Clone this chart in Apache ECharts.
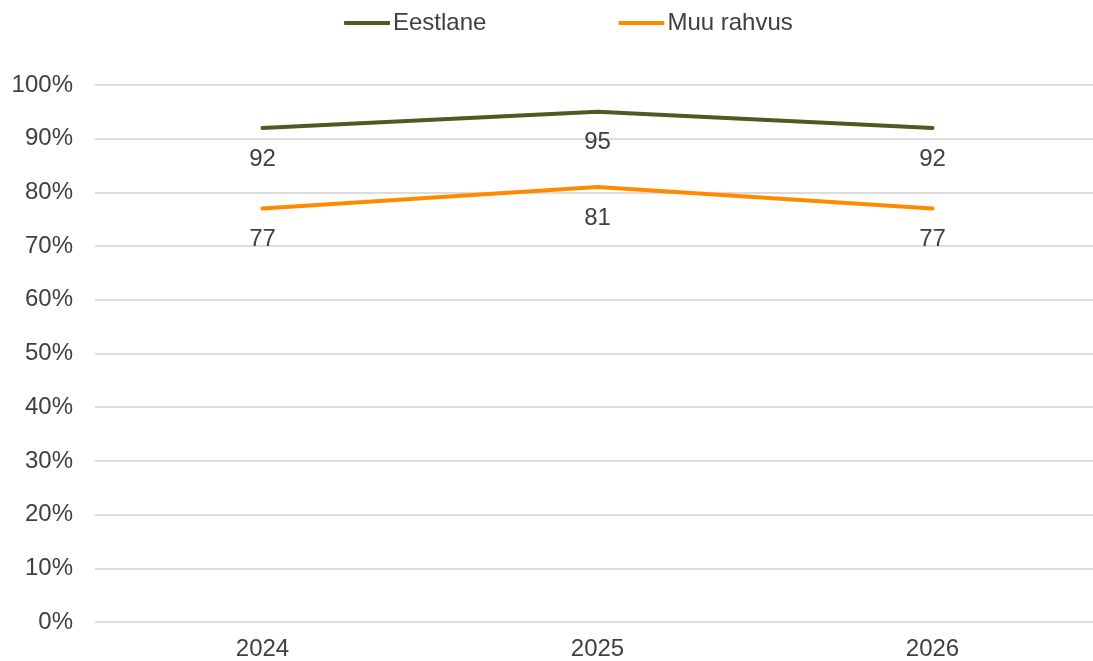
<!DOCTYPE html>
<html><head><meta charset="utf-8">
<script src="https://cdn.jsdelivr.net/npm/echarts@6/dist/echarts.min.js"></script>
<style>html,body{margin:0;padding:0;background:#fff;overflow:hidden}#c{width:1100px;height:661px}</style>
</head><body><div id="c"></div>
<script>
var categories = ['2024', '2025', '2026'];
var eestlane = [92, 95, 92];
var muuRahvus = [77, 81, 77];
var seriesNames = ['Eestlane', 'Muu rahvus'];

var font = 'Liberation Sans, Arial, sans-serif';
var chart = echarts.init(document.getElementById('c'), null, {renderer: 'canvas'});
function lbl() {
  return {show: true, position: 'bottom', distance: 19, color: '#404040', fontSize: 24, fontFamily: font,
    formatter: function (p) { return p.value; }};
}
chart.setOption({
  animation: false,
  legend: {
    top: 6, left: 339, itemWidth: 46, itemHeight: 4, itemGap: 132, icon: 'roundRect',
    textStyle: {color: '#404040', fontSize: 24, fontFamily: font, padding: [0, 0, 0, -2]},
    data: seriesNames
  },
  grid: {left: 95, right: 0, top: 85, bottom: 39, containLabel: false},
  xAxis: {
    type: 'category', data: categories, boundaryGap: true,
    axisLine: {show: false}, axisTick: {show: false},
    axisLabel: {color: '#404040', fontSize: 24, fontFamily: font, margin: 15}
  },
  yAxis: {
    type: 'value', min: 0, max: 100, interval: 10,
    axisLine: {show: false}, axisTick: {show: false},
    splitLine: {lineStyle: {color: '#d0d0d0', width: 1.5}},
    axisLabel: {color: '#404040', fontSize: 24, fontFamily: font, margin: 22, formatter: '{value}%'}
  },
  series: [
    {name: seriesNames[0], type: 'line', data: eestlane, symbol: 'circle', symbolSize: 0, showSymbol: true,
      lineStyle: {color: '#4e5a21', width: 4, cap: 'round'}, itemStyle: {color: '#4e5a21'}, label: lbl()},
    {name: seriesNames[1], type: 'line', data: muuRahvus, symbol: 'circle', symbolSize: 0, showSymbol: true,
      lineStyle: {color: '#ff8a00', width: 4, cap: 'round'}, itemStyle: {color: '#ff8a00'}, label: lbl()}
  ]
});
</script></body></html>
